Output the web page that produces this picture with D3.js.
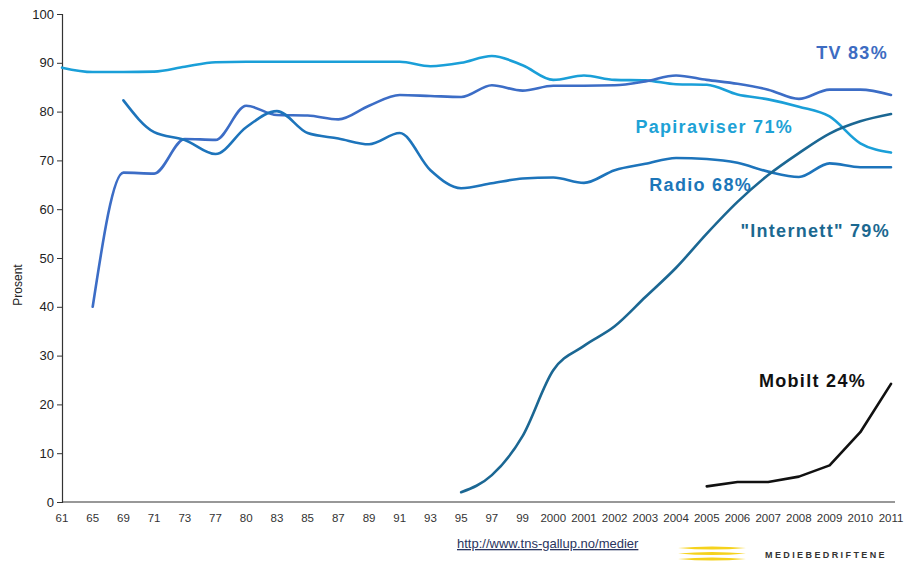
<!DOCTYPE html>
<html>
<head>
<meta charset="utf-8">
<script src="https://cdn.jsdelivr.net/npm/d3@7"></script>
<style>
body { margin: 0; background: #fff; }
svg { display: block; font-family: "Liberation Sans", Arial, sans-serif; }
</style>
</head>
<body>
<div id="chart"></div>
<script>
// year labels on the x axis (evenly spaced, not a real time scale)
var years = ["61","65","69","71","73","77","80","83","85","87","89","91","93","95","97","99",
  "2000","2001","2002","2003","2004","2005","2006","2007","2008","2009","2010","2011"];

var papiraviser = [89, 88.1, 88.1, 88.2, 89.2, 90.1, 90.2, 90.2, 90.2, 90.2, 90.2, 90.2, 89.3, 90, 91.4, 89.5,
  86.5, 87.4, 86.5, 86.4, 85.6, 85.5, 83.5, 82.5, 81, 79, 73.5, 71.6];
var tv = [null, 40, 67.5, 67.3, 74.4, 74.2, 81.2, 79.3, 79.2, 78.4, 81.2, 83.4, 83.2, 83, 85.4, 84.3,
  85.3, 85.3, 85.4, 86.2, 87.4, 86.5, 85.7, 84.5, 82.6, 84.5, 84.5, 83.4];
var radio = [null, null, 82.3, 75.8, 74.2, 71.3, 76.8, 80.1, 75.6, 74.5, 73.3, 75.6, 68, 64.3, 65.3, 66.3,
  66.5, 65.4, 68, 69.3, 70.5, 70.3, 69.5, 67.7, 66.6, 69.4, 68.6, 68.6];
var internett = [null, null, null, null, null, null, null, null, null, null, null, null, null, 2, 5.5, 13.5,
  27, 32, 36, 42, 48, 55, 61.5, 67, 71.5, 75.5, 78, 79.5];
var mobilt = [null, null, null, null, null, null, null, null, null, null, null, null, null, null, null, null,
  null, null, null, null, null, 3.2, 4.1, 4.1, 5.2, 7.5, 14.3, 24.2];

var yTicks = [0, 10, 20, 30, 40, 50, 60, 70, 80, 90, 100];

var W = 904, H = 564;
var svg = d3.select("#chart").append("svg").attr("width", W).attr("height", H);

var x = d3.scalePoint().domain(years).range([62, 891]);
var y = d3.scaleLinear().domain([0, 100]).range([502, 14]);

// y axis
var yAxis = svg.append("g").attr("transform", "translate(62,0)")
  .call(d3.axisLeft(y).tickValues(yTicks).tickSize(5).tickPadding(3));
yAxis.select(".domain").attr("stroke", "#333").attr("stroke-width", 1.2);
yAxis.selectAll(".tick line").attr("stroke", "#333");
yAxis.selectAll("text").attr("font-size", 13).attr("fill", "#222").attr("font-family", "Liberation Sans, Arial");

// x axis
svg.append("line").attr("x1", 62).attr("x2", 895).attr("y1", y(0)).attr("y2", y(0))
  .attr("stroke", "#333").attr("stroke-width", 1.2);
svg.append("g").selectAll("text").data(years).enter().append("text")
  .attr("x", function(d){ return x(d); })
  .attr("y", 522)
  .attr("text-anchor", "middle")
  .attr("font-size", 11.5)
  .attr("fill", "#333")
  .text(function(d){ return d; });

svg.append("text")
  .attr("transform", "translate(22,285) rotate(-90)")
  .attr("text-anchor", "middle")
  .attr("font-size", 12)
  .attr("fill", "#222")
  .text("Prosent");

var smooth = d3.line()
  .defined(function(d){ return d != null; })
  .x(function(d, i){ return x(years[i]); })
  .y(function(d){ return y(d); })
  .curve(d3.curveMonotoneX);

var straight = d3.line()
  .defined(function(d){ return d != null; })
  .x(function(d, i){ return x(years[i]); })
  .y(function(d){ return y(d); });

var series = [
  {vals: papiraviser, color: "#1a9fd8", gen: smooth},
  {vals: tv, color: "#3c6dc6", gen: smooth},
  {vals: radio, color: "#1d74bb", gen: smooth},
  {vals: internett, color: "#1b6793", gen: smooth},
  {vals: mobilt, color: "#111", gen: straight}
];
series.forEach(function(s){
  svg.append("path").attr("d", s.gen(s.vals))
    .attr("fill", "none").attr("stroke", s.color)
    .attr("stroke-width", 2.6).attr("stroke-linejoin", "round").attr("stroke-linecap", "round");
});

// series labels
var labels = [
  {t: "TV 83%", x: 888, y: 59, c: "#3d6cc2"},
  {t: "Papiraviser 71%", x: 793, y: 133, c: "#1ea2d6"},
  {t: "Radio 68%", x: 752, y: 191, c: "#1c76b9"},
  {t: "\"Internett\" 79%", x: 890, y: 237, c: "#1b6890"},
  {t: "Mobilt 24%", x: 866, y: 387, c: "#111"}
];
svg.append("g").selectAll("text").data(labels).enter().append("text")
  .attr("x", function(d){ return d.x; })
  .attr("y", function(d){ return d.y; })
  .attr("text-anchor", "end")
  .attr("font-size", 18)
  .attr("font-weight", "bold")
  .attr("letter-spacing", 1.3)
  .attr("fill", function(d){ return d.c; })
  .text(function(d){ return d.t; });

// footer
svg.append("text").attr("x", 457).attr("y", 548)
  .attr("font-size", 13).attr("fill", "#2a3560")
  .attr("text-decoration", "underline")
  .text("http://www.tns-gallup.no/medier");

var stripes = [548, 553.5, 559];
stripes.forEach(function(sy, i){
  svg.append("path")
    .attr("d", "M678," + sy + " Q712," + (sy - 3) + " 746," + sy + " Q712," + (sy + 3) + " 678," + sy + "Z")
    .attr("fill", "#f5d21c");
});
svg.append("text").attr("x", 765).attr("y", 558)
  .attr("font-size", 9).attr("font-weight", "bold").attr("letter-spacing", 2.4)
  .attr("fill", "#333")
  .text("MEDIEBEDRIFTENE");
</script>
</body>
</html>
